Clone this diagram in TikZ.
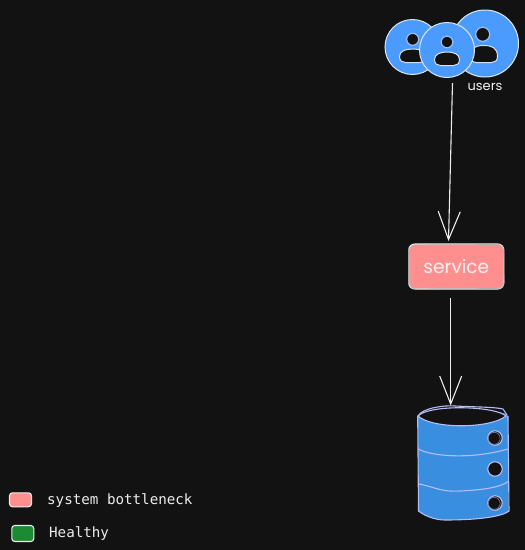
\documentclass[tikz,border=0pt]{standalone}
\usepackage{fontspec}
\setmainfont{Liberation Sans}
\newfontfamily\handfont{Poppins}
\newfontfamily\legendfont{DejaVu Sans Mono}
\usetikzlibrary{arrows.meta}
\definecolor{bgc}{HTML}{121212}
\definecolor{pinkc}{HTML}{FF8F8F}
\definecolor{greenc}{HTML}{1B8A33}
\definecolor{bluec}{HTML}{4B9BFF}
\definecolor{dbblue}{HTML}{3A8EE0}
\definecolor{dbline}{HTML}{B5BDF5}
\definecolor{sk}{HTML}{EDEDED}
\tikzset{
  x=1pt,y=-1pt,
  usercircle/.style={circle,inner sep=0pt,fill=bluec,draw=sk!90!bluec,line width=1pt},
  persondark/.style={fill=bgc,draw=sk!85!bluec,line width=1pt},
  headdark/.style={fill=bgc,draw=sk!45!bluec,line width=1.2pt},
  flow/.style={draw=sk,line width=1.1pt,-{Straight Barb[length=28pt,width=22pt,line width=1.1pt]}},
  sketchbox/.style={draw=sk,line width=1.1pt,rounded corners=6pt},
  dbstroke/.style={draw=dbline,line width=1.1pt},
  handlabel/.style={inner sep=0pt,text=white!95!black,font=\handfont},
  legendlabel/.style={inner sep=0pt,anchor=base west,text=sk,font=\legendfont\fontsize{14.2}{16}\selectfont},
}
\newcommand{\personbody}[4]{% left, right, top, bottom
  \path[persondark] (#1,#4-6) .. controls (#1,#3+2) and (#1+6,#3) .. ({(#1+#2)/2},#3)
    .. controls (#2-6,#3) and (#2,#3+2) .. (#2,#4-6)
    .. controls (#2,#4-1.5) and (#2-3,#4) .. (#2-6,#4) -- (#1+6,#4)
    .. controls (#1+3,#4) and (#1,#4-1.5) .. cycle;}
\begin{document}
\begin{tikzpicture}
\useasboundingbox[fill=bgc] (0,0) rectangle (525,550);
% users
\node[usercircle,minimum size=67pt] (userC) at (485,43.5) {};
\node[usercircle,minimum size=55pt] (userA) at (412.5,47) {};
\path[headdark] (412.7,39.3) circle (6);
\personbody{399.5}{426}{49}{62.5}
\path[headdark] (482.7,34.3) circle (7);
\personbody{470}{497.5}{45.5}{62.5}
\node[usercircle,minimum size=55pt] (userB) at (447,50) {};
\path[headdark] (447,42) circle (5.8);
\personbody{434.5}{459.5}{52}{65.5}
\node[handlabel,font=\handfont\fontsize{13}{15}\selectfont] (userslabel) at (485,87) {users};
% service
\node[sketchbox,fill=pinkc,minimum width=95pt,minimum height=45pt,inner sep=0pt,anchor=center,
      text=white!95!black,font=\handfont\fontsize{18.5}{20}\selectfont] (service) at (456.3,266.5) {service};
\draw[draw=sk!75!black,line width=.8pt,rounded corners=6pt] (409.5,245) -- (503.5,244.5) -- (504,288.5) -- (410,289) -- cycle;
% database
\path[fill=dbblue] (417.7,416) .. controls (418,408) and (508,408) .. (508,416) -- (508.5,511)
  .. controls (500,518) and (470,520) .. (445,520) .. controls (435,520) and (425,516) .. (418.5,511) -- cycle;
\draw[dbstroke] (417.7,416) -- (418.5,511) .. controls (425,516) and (435,520) .. (445,520)
  .. controls (470,520) and (500,518) .. (509,511) -- (508,416);
\draw[dbstroke] (418,416) .. controls (422,408) and (445,405) .. (455,406) .. controls (475,407) and (495,407) .. (503,409) -- (507,415);
\path[fill=bgc] (418,416) .. controls (432,429) and (490,429) .. (506,416) .. controls (495,406) and (430,404) .. (418,416) -- cycle;
\draw[dbstroke] (418,416) .. controls (432,429) and (490,429) .. (506,416) .. controls (495,406) and (430,404) .. (418,416) -- cycle;
\draw[dbstroke] (418.5,449) .. controls (430,456) and (470,460) .. (508,449);
\draw[dbstroke] (419,484) .. controls (435,487) and (440,492) .. (460,491) .. controls (480,490) and (500,488) .. (509,481);
\foreach \hy/\hn in {438/dbholeA,469/dbholeB,503/dbholeC}{
  \node[circle,inner sep=0pt,minimum size=14.5pt,fill=bgc,dbstroke] (\hn) at (495,\hy) {};
}
\draw[draw=dbline!60!bgc,line width=.7pt] (494.2,438.3) circle (6);
\draw[draw=dbline!60!bgc,line width=.7pt] (494.2,503.3) circle (6);
% connectors
\coordinate (usersout) at (452.5,83);
\coordinate (svcin) at (448.5,241);
\coordinate (svcout) at (450.7,298);
\coordinate (dbin) at (450.7,405.5);
\draw[flow] (usersout) -- (svcin);
\draw[flow] (svcout) -- (dbin);
% legend
\node[sketchbox,fill=pinkc,rounded corners=3pt,minimum width=22pt,minimum height=14pt,inner sep=0pt] (legendPink) at (20.5,499.8) {};
\node[sketchbox,fill=greenc,rounded corners=3pt,minimum width=22pt,minimum height=16pt,inner sep=0pt] (legendGreen) at (22.8,533.5) {};
\node[legendlabel] (legendPinkText) at (47,504) {system bottleneck};
\node[legendlabel] (legendGreenText) at (49,537) {Healthy};
\end{tikzpicture}
\end{document}
